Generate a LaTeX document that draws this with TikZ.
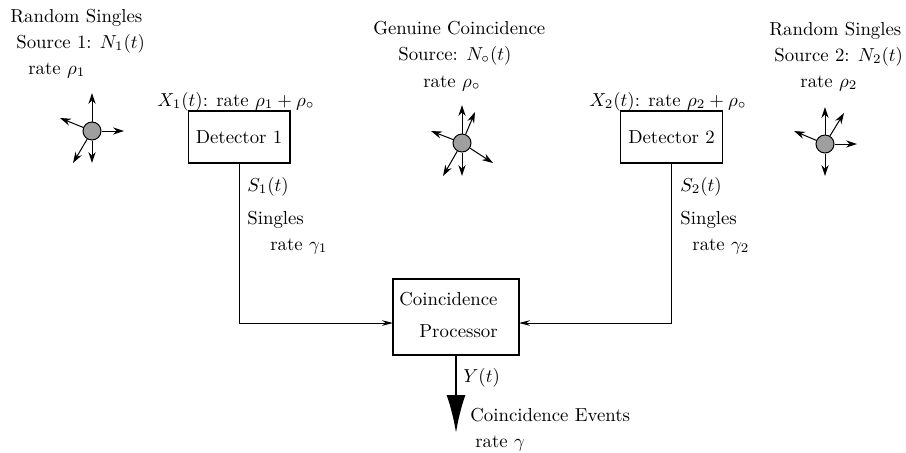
\documentclass[tikz,border=0pt]{standalone}
\usetikzlibrary{arrows.meta}
\tikzset{
    label/.style={scale=0.94, anchor=base west, inner sep=0pt},
    block/.style={scale=0.94, draw, line width=0.55pt, minimum width=54.2pt, minimum height=27.7pt, inner sep=0pt},
    emitter/.style={circle, draw, line width=0.5pt, fill=gray!75, minimum size=9pt, inner sep=0pt},
    ray/.style={line width=0.5pt, -{Stealth[length=5.5pt,width=3.6pt]}},
    wire/.style={line width=0.5pt, -{Stealth[length=5.5pt,width=2.8pt]}}
}
\begin{document}
\begin{tikzpicture}[x=0.5pt, y=-0.5pt]
    \useasboundingbox (0,0) rectangle (906,452);
    % sources
    \node[emitter] (srcA) at (92,131) {};
    \node[emitter] (srcO) at (462,143) {};
    \node[emitter] (srcB) at (825,144) {};
    \foreach \px/\py in {92/93, 60/118, 124/131, 73/163, 92/163} {
        \coordinate (tip) at (\px,\py);
        \draw[ray] (srcA) -- (tip);
    }
    \foreach \px/\py in {462/105, 475/112, 431/131, 493/163, 443/176, 462/176} {
        \coordinate (tip) at (\px,\py);
        \draw[ray] (srcO) -- (tip);
    }
    \foreach \px/\py in {825/107, 844/113, 794/131, 857/144, 825/176} {
        \coordinate (tip) at (\px,\py);
        \draw[ray] (srcB) -- (tip);
    }
    % boxes
    \node[block] (det1) at (239,137) {Detector 1};
    \node[block] (det2) at (671.5,137) {Detector 2};
    \node[block, minimum width=67pt, minimum height=40.4pt] (proc) at (456,317) {};
    \coordinate (procL) at (393,323);
    \coordinate (procR) at (519,323);
    \coordinate (outEnd) at (456,433);
    \draw[wire] (det1.south) |- (procL);
    \draw[wire] (det2.south) |- (procR);
    \draw[line width=1.3pt, -{Latex[length=19pt,width=9.5pt]}] (proc.south) -- (outEnd);
    % labels
    \node[label] (srcAa) at (10,22) {Random Singles};
    \node[label] (srcAb) at (16,48) {Source 1: $N_1(t)$};
    \node[label] (srcAc) at (28,74) {rate $\rho_1$};
    \node[label] (srcOa) at (373,34) {Genuine Coincidence};
    \node[label] (srcOb) at (398,60) {Source: $N_\circ(t)$};
    \node[label] (srcOc) at (423,87) {rate $\rho_\circ$};
    \node[label] (srcBa) at (769,35) {Random Singles};
    \node[label] (srcBb) at (774,61) {Source 2: $N_2(t)$};
    \node[label] (srcBc) at (800,87) {rate $\rho_2$};
    \node[label] (inA) at (157,106) {$X_1(t)$: rate $\rho_1+\rho_\circ$};
    \node[label] (inB) at (589,106) {$X_2(t)$: rate $\rho_2+\rho_\circ$};
    \node[label] (sglAa) at (247,191) {$S_1(t)$};
    \node[label] (sglAb) at (247,224) {Singles};
    \node[label] (sglAc) at (270,250) {rate $\gamma_1$};
    \node[label] (sglBa) at (680,191) {$S_2(t)$};
    \node[label] (sglBb) at (680,224) {Singles};
    \node[label] (sglBc) at (692,250) {rate $\gamma_2$};
    \node[label] (procA) at (399,305) {Coincidence};
    \node[label] (procB) at (419,337) {Processor};
    \node[label] (outA) at (463,382) {$Y(t)$};
    \node[label] (outB) at (470,421) {Coincidence Events};
    \node[label] (outC) at (475,447) {rate $\gamma$};
\end{tikzpicture}
\end{document}
